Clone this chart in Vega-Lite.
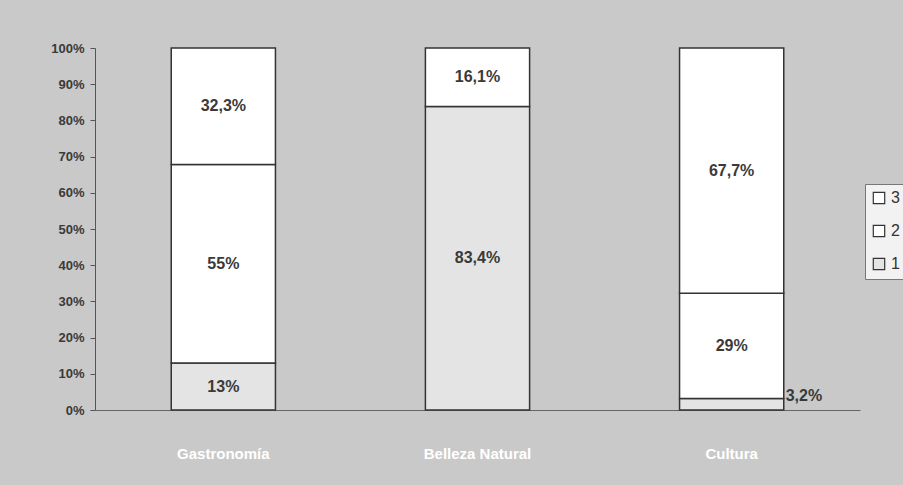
{
  "$schema": "https://vega.github.io/schema/vega-lite/v6.json",
  "width": 765,
  "height": 362,
  "autosize": {"type": "none"},
  "padding": {"left": 95, "top": 48, "right": 43, "bottom": 75},
  "background": "#c9c9c9",
  "config": {
    "view": {"stroke": null},
    "font": "Liberation Sans"
  },
  "data": {
    "values": [
      {"cat": "Gastronomía", "serie": "1", "v": 13, "label": "13%"},
      {"cat": "Gastronomía", "serie": "2", "v": 55, "label": "55%"},
      {"cat": "Gastronomía", "serie": "3", "v": 32.3, "label": "32,3%"},
      {"cat": "Belleza Natural", "serie": "1", "v": 83.4, "label": "83,4%"},
      {"cat": "Belleza Natural", "serie": "3", "v": 16.1, "label": "16,1%"},
      {"cat": "Cultura", "serie": "1", "v": 3.2, "label": "3,2%"},
      {"cat": "Cultura", "serie": "2", "v": 29, "label": "29%"},
      {"cat": "Cultura", "serie": "3", "v": 67.7, "label": "67,7%"}
    ]
  },
  "transform": [
    {"stack": "v", "groupby": ["cat"], "sort": [{"field": "serie", "order": "ascending"}], "offset": "normalize", "as": ["y0", "y1"]},
    {"calculate": "(datum.y0 + datum.y1) / 2", "as": "ymid"}
  ],
  "encoding": {
    "x": {
      "field": "cat",
      "type": "nominal",
      "sort": ["Gastronomía", "Belleza Natural", "Cultura"],
      "scale": {"paddingInner": 0.59, "paddingOuter": 0.3},
      "axis": {
        "title": null,
        "labelAngle": 0,
        "labelColor": "white",
        "labelFontWeight": "bold",
        "labelFontSize": 15,
        "labelPadding": 36,
        "ticks": false,
        "domain": true,
        "domainColor": "#666"
      }
    },
    "y": {
      "field": "y0",
      "type": "quantitative",
      "scale": {"domain": [0, 1]},
      "axis": {
        "title": null,
        "format": ".0%",
        "values": [0, 0.1, 0.2, 0.3, 0.4, 0.5, 0.6, 0.7, 0.8, 0.9, 1],
        "labelOverlap": false,
        "grid": false,
        "labelFontWeight": "bold",
        "labelFontSize": 13,
        "labelColor": "#3a3a3a",
        "labelPadding": 6,
        "tickSize": 5,
        "tickColor": "#555",
        "domainColor": "#555"
      }
    }
  },
  "layer": [
    {
      "mark": {"type": "bar", "stroke": "#333", "strokeWidth": 1.5},
      "encoding": {
        "y2": {"field": "y1"},
        "fill": {
          "field": "serie",
          "type": "nominal",
          "scale": {"domain": ["3", "2", "1"], "range": ["#ffffff", "#ffffff", "#e4e4e4"]},
          "legend": {
            "title": null,
            "orient": "none",
            "legendX": 770,
            "legendY": 136,
            "symbolType": "square",
            "symbolSize": 130,
            "symbolStrokeColor": "#333",
            "symbolStrokeWidth": 1.2,
            "labelFontSize": 16,
            "labelColor": "#333",
            "rowPadding": 15,
            "padding": 6,
            "strokeColor": "#777",
            "fillColor": "#f2f2f2"
          }
        }
      }
    },
    {
      "transform": [{"filter": "!(datum.cat == 'Cultura' && datum.serie == '1')"}],
      "mark": {"type": "text", "fontWeight": "bold", "fontSize": 16, "color": "#3a3a3a", "baseline": "middle"},
      "encoding": {
        "y": {"field": "ymid", "type": "quantitative"},
        "text": {"field": "label"}
      }
    },
    {
      "transform": [{"filter": "datum.cat == 'Cultura' && datum.serie == '1'"}],
      "mark": {"type": "text", "fontWeight": "bold", "fontSize": 16, "color": "#3a3a3a", "baseline": "middle", "align": "left", "dx": 54, "dy": -8},
      "encoding": {
        "y": {"field": "ymid", "type": "quantitative"},
        "text": {"field": "label"}
      }
    }
  ]
}
